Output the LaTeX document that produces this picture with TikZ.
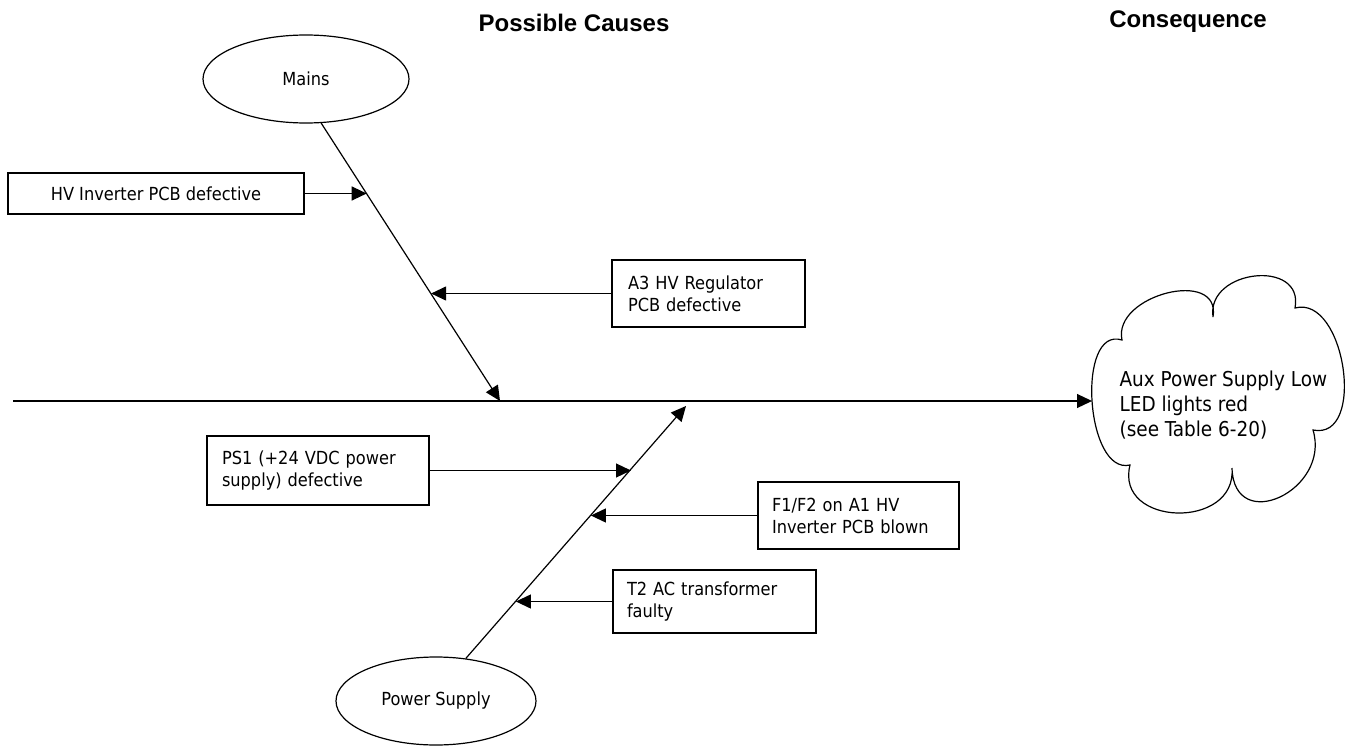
\documentclass[tikz,border=0pt]{standalone}
\usepackage{fontspec}
\setmainfont{DejaVu Sans Condensed}
\newfontfamily\titlefont{Liberation Sans}
\usetikzlibrary{arrows.meta,shapes.geometric}
\begin{document}
\begin{tikzpicture}[x=1pt,y=-1pt,
  line width=1.2pt,
  arr/.style={-{Triangle[length=15pt,width=14pt]}},
  box/.style={draw,rectangle,inner sep=0pt,font=\fontsize{18}{22}\selectfont},
  ell/.style={draw,ellipse,minimum width=206pt,minimum height=88pt,inner sep=0pt,font=\fontsize{18}{22}\selectfont},
  title/.style={font=\titlefont\bfseries\fontsize{24}{28}\selectfont,inner sep=0pt,anchor=base}]
\useasboundingbox (0,0) rectangle (1349,746);

% titles
\node[title] (pc) at (574,32) {Possible Causes};
\node[title] (cq) at (1188,28) {Consequence};

% spine
\coordinate (mstart) at (13,401);
\coordinate (cloudW) at (1092,401);
\draw[arr] (mstart) -- (cloudW);

% consequence cloud
\draw[line join=miter] (1130,465) .. controls (1085.5,475.5) and (1075.9,325.5) .. (1122,340)
  .. controls (1112.2,295) and (1221.4,267.4) .. (1213,317)
  .. controls (1206.1,269.2) and (1304.5,258.4) .. (1295,308)
  .. controls (1345.2,294.5) and (1366.8,440.9) .. (1313,430)
  .. controls (1331.1,490.2) and (1233.9,535.8) .. (1232,468)
  .. controls (1236.9,530.3) and (1114.5,526.7) .. (1130,465) -- cycle;
\node[font=\fontsize{20.5}{25}\selectfont,align=left,anchor=west,inner sep=0pt] (cons) at (1119,405)
  {Aux Power Supply Low\\LED lights red\\(see Table 6-20)};

% Mains branch
\node[ell] (mains) at (306,79) {Mains};
\coordinate (j1) at (500,401);
\draw[arr] (mains.-71) -- (j1);

\node[box,minimum width=296pt,minimum height=41pt] (hv) at (156,193.5) {HV Inverter PCB defective};
\coordinate (hvtip) at (366.7,193.5);
\draw[arr] (hv.east) -- (hvtip);

\node[box,minimum width=193pt,minimum height=67pt,text width=161pt,align=left] (a3) at (708.5,293.5)
  {A3 HV Regulator\\PCB defective};
\coordinate (a3tip) at (431.1,293.5);
\draw[arr] (a3.west) -- (a3tip);

% Power Supply branch
\node[ell,minimum width=200pt] (ps) at (436,701) {Power Supply};
\coordinate (j2) at (686,406);
\draw[arr] (ps.55) -- (j2);

\node[box,minimum width=222pt,minimum height=69pt,text width=192pt,align=left] (ps1) at (318,470.5)
  {PS1 (+24 VDC power\\supply) defective};
\coordinate (ps1tip) at (631,470.5);
\draw[arr] (ps1.east) -- (ps1tip);

\node[box,minimum width=201pt,minimum height=67pt,text width=173pt,align=left] (f1) at (858.5,515.5)
  {F1/F2 on A1 HV\\Inverter PCB blown};
\coordinate (f1tip) at (590.9,515.5);
\draw[arr] (f1.west) -- (f1tip);

\node[box,minimum width=203pt,minimum height=63pt,text width=175pt,align=left] (t2) at (714.5,601.5)
  {T2 AC transformer\\faulty};
\coordinate (t2tip) at (515.9,601.5);
\draw[arr] (t2.west) -- (t2tip);
\end{tikzpicture}
\end{document}
